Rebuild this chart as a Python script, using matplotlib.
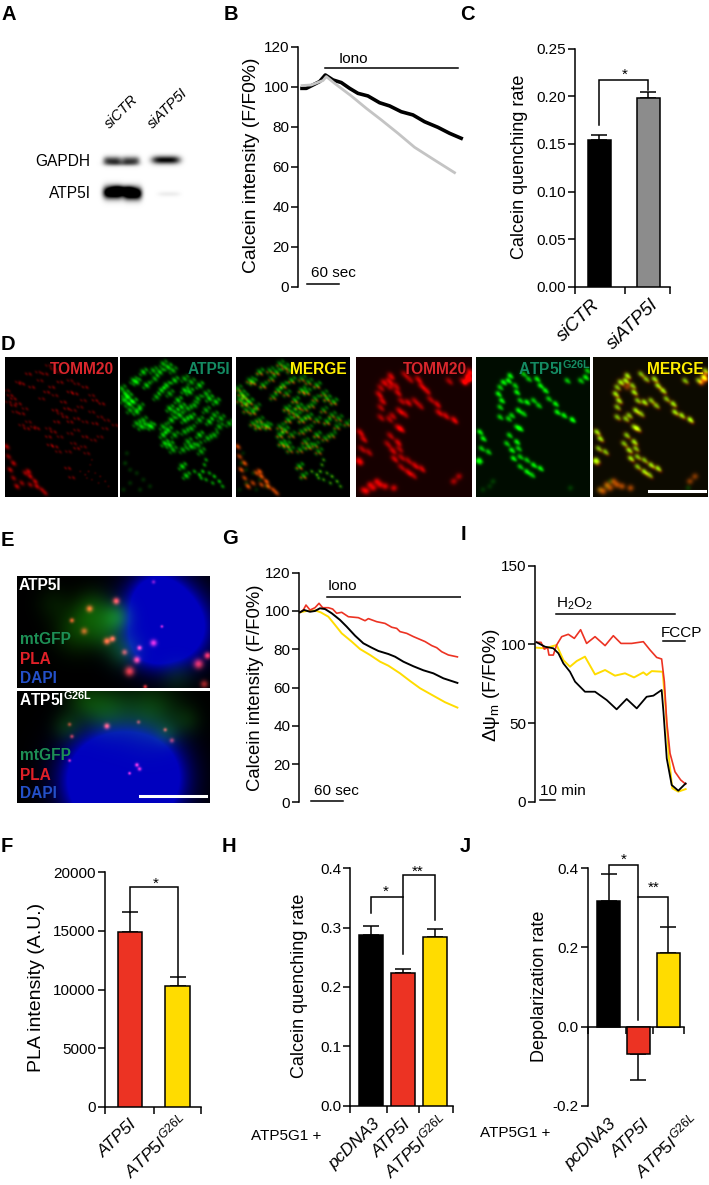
import numpy as np
import matplotlib
matplotlib.use('Agg')
import matplotlib.pyplot as plt

W, H = 709, 1185
plt.rcParams['font.family'] = ['Liberation Sans', 'DejaVu Sans']
plt.rcParams['mathtext.fontset'] = 'custom'
plt.rcParams['mathtext.rm'] = 'Liberation Sans'
plt.rcParams['mathtext.it'] = 'Liberation Sans:italic'
plt.rcParams['mathtext.bf'] = 'Liberation Sans:bold'
plt.rcParams['mathtext.default'] = 'regular'

G26L_IT = r'$\mathit{ATP5I}^{\mathit{G26L}}$'
BLACK, RED, YELLOW, GREY = '#000000', '#ec3323', '#ffdc00', '#8c8c8c'

# Panel B
b_t_black = [6.8,15,27.6,40.2,50.9,65.4,81.1,96.9,112.6,131.5,153.6,172.5,194.5,216.6,238.6,263.8,285.9,307.9]
b_black = [99.3,99.3,101,102.7,106,103.5,102.2,99.3,96.8,95.5,92.1,90.5,87.6,86,82.6,79.8,76.8,74.3]
b_t_grey = [6.8,24.4,46.5,52.8,68.5,100,128.4,156.8,188.3,219.7,257.5,295.3]
b_grey = [100.7,101,103.2,105.2,101.8,95.5,89.3,83.5,76.8,69.8,63.4,57.1]
# Panel C
c_labels = ['siCTR', 'siATP5I']
c_vals = [0.154, 0.198]
c_errs = [0.005, 0.006]
# Panel G
g_t_red = [1.3,7.6,12.6,20.2,29.6,37.2,44.1,54.8,63,70.5,80,92.5,111.4,124,130.3,146,161.7,174.3,183.7,190,202.6,215.2,237.2,249.8,259.2,268.6,281.2,298.2]
g_red = [99.3,100.5,103.1,100.5,101.7,104,101.7,101.7,101,98.8,99.3,97,96.5,94.9,96,94.4,93.5,91.5,90.9,89.2,88.3,86.6,84,81.9,80.8,78.7,77,76]
g_t_black = [1.3,8.9,20.2,29.6,39,48.5,61.1,76.8,89.4,105.1,120.8,136.6,149.1,168,180.6,196.3,215.2,234,252.9,271.8,298.2]
g_black = [99.3,100.5,99.6,100,101.4,101,98.8,95.3,91.8,87.1,83.1,80.8,79.1,77.5,76.1,73.5,71.1,69,67.4,64.8,62.4]
g_t_yellow = [1.3,13.9,29.6,40.3,54.8,67.4,80,98.8,114.5,133.4,152.3,168,190,208.9,227.8,252.9,274.9,298.2]
g_yellow = [99.3,100,100.3,99.3,97,92.7,88.3,84,80.1,77,73.5,71.4,67.4,63.4,59.6,55.7,52.3,49.5]
# Panel I
i_t_red = [1.1,4,6.2,8.4,9.3,12.2,14.4,17.8,22.2,26.2,30.4,34.4,40,46.7,52.2,57.3,64.4,72.2,76.7,81.1,84.4,86.2,87.8,90,93.3,97.1,100.4]
i_red = [101.3,101.3,97,97.9,93.2,93.2,99.6,104.9,106.4,103.8,109.3,100.6,104.9,99.2,105.5,100.6,100.6,101.7,96.4,91.7,90.7,76.3,50.8,30.7,19,13.8,11.2]
i_t_yellow = [1.1,6.7,14.4,18.9,23.3,27.8,33.3,40,46.7,53.3,60,66,72.2,74.4,77.8,85.1,87.1,89.3,91.5,95.5,100.4]
i_yellow = [97.9,97.5,99.6,90,85.8,89.4,92.2,80.9,83.7,80.1,81.6,79,82.2,80.5,83,82.6,59.3,27.5,8.5,6.4,8]
i_t_black = [1.1,6.7,12.2,15.6,18.9,23.3,26.7,33.3,40,47.8,54.4,61.1,67.8,74.4,78.9,84.4,85.6,87.8,91.1,95.5,100.4]
i_black = [101.3,98.5,97.5,94.3,87.9,82.6,76.3,69.9,69.9,64.6,58.7,65.3,59.3,66.7,67.4,71,57.2,27.5,10.6,7,11.6]
# Panels F, H, J
f_labels = ['ATP5I', G26L_IT]
f_vals = [14900, 10300]
f_errs = [1700, 800]
h_labels = ['pcDNA3', 'ATP5I', G26L_IT]
h_vals = [0.287, 0.224, 0.284]
h_errs = [0.016, 0.007, 0.013]
j_labels = ['pcDNA3', 'ATP5I', G26L_IT]
j_vals = [0.318, -0.070, 0.187]
j_errs = [0.067, 0.065, 0.064]

# Micrograph blobs (x, y in 3x crop coordinates)
d_green_l = [(130,20),(145,30),(160,40),(120,45),(100,40),(70,45),(40,70),(50,75),(105,65),(80,85),(140,85),(165,70),
 (195,65),(215,75),(240,85),(195,100),(210,105),(150,110),(110,120),(125,100),(5,95),(15,110),(25,120),(10,130),(25,140),
 (40,135),(30,160),(50,165),(60,150),(260,110),(270,125),(290,135),(235,125),(175,130),(185,150),(165,165),(205,155),
 (225,145),(260,160),(285,175),(305,185),(330,200),(150,155),(180,175),(195,190),(155,190),(215,180),(240,190),(270,195),
 (300,210),(50,200),(65,210),(85,205),(70,190),(95,210),(130,210),(145,220),(165,235),(195,225),(215,215),(240,235),
 (265,245),(285,235),(130,235),(135,260),(150,265),(160,280),(190,280),(205,255),(215,270),(235,265),(245,285),(188,330),
 (200,358)]
d_chain_l = [(260,310),(255,325),(250,345),(240,355),(225,345),(270,350),(285,360),(300,375),(310,390),(280,380),(260,370),(245,365)]
d_green_l_dim = [(20,290),(15,320),(50,350),(70,370),(90,390),(30,380),(60,400),(30,340),(10,400)]
d_red_l_extra = [(5,270),(10,300),(25,320),(15,340),(60,350),(75,360),(90,375),(110,400),(50,380),(35,390),(70,345),(95,390),(25,365),(75,385),(120,410)]
d_green_r = [(100,55),(95,70),(80,75),(70,90),(65,110),(75,130),(70,150),(140,50),(155,65),(115,85),(120,105),(180,65),
 (190,85),(205,100),(215,125),(130,130),(150,135),(170,130),(185,145),(125,160),(105,175),(95,185),(70,180),(140,170),
 (235,140),(240,165),(260,175),(285,188),(120,210),(130,215),(98,235),(120,255),(90,260),(105,280),(125,275),(130,300),
 (110,305),(150,310),(170,325),(190,335),(130,330),(150,345),(165,355),(10,225),(20,245),(15,275),(35,285),(10,310),
 (5,315),(270,70),(310,70),(325,60),(330,40)]
d_green_r_dim = [(40,390),(20,400),(50,375),(280,395)]
d_red_r_extra = [(40,385),(60,375),(85,390),(20,400),(285,375),(300,360),(330,50),(320,75),(100,90),(330,65),(50,395),(110,395),(70,385),(30,405)]

e1_blue = [(490,300,80,1.0),(530,330,60,.7),(450,370,45,.5),(470,230,50,.6)]
e1_green = [(350,290,30,.7),(280,270,40,.5),(230,330,45,.4),(370,390,35,.45),(160,250,35,.15),(530,470,35,.2),(310,340,35,.35)]
e1_red = [(348,242,7,1),(268,265,7,.9),(215,300,5,.8),(252,332,7,.7),(320,362,7,1),(337,355,6,1),(373,395,6,.7),(418,382,5,1),
 (410,418,7,1),(388,452,10,.9),(595,430,10,.9),(622,405,7,1),(612,490,8,.6),(460,367,7,.9),(435,498,4,.9),(460,185,4,.5),(485,318,3,.8)]
e2_blue = [(370,770,95,1.0),(300,770,70,.7),(440,760,70,.7),(370,830,90,.7)]
e2_green = [(320,570,50,.5),(450,580,60,.5),(200,620,30,.3),(560,600,30,.2),(250,540,40,.3),(500,640,25,.25)]
e2_red = [(320,617,6,1),(208,612,4,.6),(215,648,4,.7),(415,605,4,.6),(495,628,4,.7),(515,660,5,.6),(410,733,4,1),(418,745,4,.9),(388,758,3,1),(208,720,3,.9)]

# Western blot bands: (x px, y px, half-width, half-height, darkness)
bands = [(112,161,9,4.0,.72),(130,161,9,4.0,.68),(121,164,17,2.5,.30),(165,160.5,14,4.0,.98),
         (113,192.5,10,6,1.5),(132,193.5,9,6,1.5),(122,190,12,4,.7),(168,194,11,2.5,.07)]

fig = plt.figure(figsize=(W/100, H/100), dpi=100, facecolor='white')

def panel(l, r, t, b, xlim, ylim):
    ax = fig.add_axes([l/W, 1-b/H, (r-l)/W, (b-t)/H])
    ax.set_xlim(xlim); ax.set_ylim(ylim)
    ax.patch.set_alpha(0)
    for s in ('top', 'right', 'bottom'):
        ax.spines[s].set_visible(False)
    ax.spines['left'].set_linewidth(1.1)
    ax.set_xticks([])
    ax.tick_params(axis='y', length=5, width=1.1, labelsize=11, pad=1.5)
    return ax

def ftext(x, y, s, **kw):
    kw.setdefault('ha', 'left'); kw.setdefault('va', 'center')
    fig.text(x/W, 1-y/H, s, **kw)

def ylab(x, y, s, size=13):
    ftext(x, y, s, rotation=90, ha='center', fontsize=size)

def barpanel(ax, vals, errs, colors, width, seps, labels, offs, size, yoff):
    xs = np.arange(len(vals))
    ax.bar(xs, vals, width=width, color=colors, edgecolor='black', linewidth=1.1, zorder=3)
    signed = [(0, e) if v >= 0 else (e, 0) for v, e in zip(vals, errs)]
    for x, v, (lo, hi) in zip(xs, vals, signed):
        ax.errorbar(x, v, yerr=[[lo], [hi]], color='black', capsize=5.5, elinewidth=1.1, capthick=1.1, zorder=2)
    ax.spines['bottom'].set_visible(True)
    ax.spines['bottom'].set_linewidth(1.1)
    ax.set_xticks(seps)
    ax.set_xticklabels([])
    ax.tick_params(axis='x', length=5, width=1.1)
    for x, s, o in zip(xs, labels, offs):
        up = 4.5 if '$' in s else 0
        ax.annotate(s, xy=(x, 0), xycoords=('data', 'axes fraction'), xytext=(o, -yoff+up),
                    textcoords='offset points', rotation=44, rotation_mode='anchor',
                    ha='right', va='top', fontsize=size, style='italic')

def bracket(ax, xs, ys):
    ax.plot(xs, ys, color='black', lw=1.1, clip_on=False, zorder=5, solid_joinstyle='miter')

def star(ax, x, y, s='*'):
    ax.text(x, y, s, ha='center', va='center', fontsize=11, clip_on=False)

def gray_img(l, r, t, b, bands_):
    ys, xs = np.mgrid[t:b:0.5, l:r:0.5]
    d = np.zeros_like(xs, dtype=float)
    for x0, y0, sx, sy, a in bands_:
        d += a*np.exp(-((xs-x0)/sx)**4 - ((ys-y0)/sy)**2)
    ax = fig.add_axes([l/W, 1-b/H, (r-l)/W, (b-t)/H])
    ax.imshow(1-np.clip(d, 0, 1), cmap='gray', vmin=0, vmax=1, aspect='auto', interpolation='bilinear')
    ax.axis('off')

def layer(shape, pts, sigma, amp=1.0, stretch=1.0, shift=(0, 0)):
    h, w = shape
    ys, xs = np.mgrid[0:h:1.5, 0:w:1.5]
    d = np.zeros_like(xs, dtype=float)
    for p in pts:
        px, py = p[0]+shift[0], p[1]+shift[1]
        s = p[2] if len(p) > 2 else sigma
        a = p[3] if len(p) > 3 else 0.65+0.35*((p[0]*7+p[1]*13) % 10)/10
        u = ((xs-px)+(ys-py))/np.sqrt(2)   # along the mitochondria direction
        v = ((xs-px)-(ys-py))/np.sqrt(2)
        d += a*np.exp(-(u*u/(stretch*stretch)+v*v)/(2*s*s))
    return d*amp

def show_rgb(l, r, t, b, rgb):
    ax = fig.add_axes([l/W, 1-b/H, (r-l)/W, (b-t)/H])
    ax.imshow(np.clip(rgb, 0, 1), aspect='auto', interpolation='bilinear')
    ax.axis('off')
    return ax

# Panel letters
for x, y, s in [(1,15,'A'),(224,15,'B'),(460,15,'C'),(1,345,'D'),(1,540,'E'),(222,538,'G'),(461,535,'I'),
                (1,846,'F'),(222,846,'H'),(460,846,'J')]:
    ftext(x, y, s, fontsize=14.5, fontweight='bold')

# A
gray_img(92, 192, 146, 210, bands)
ftext(90.5, 161, 'GAPDH', ha='right', fontsize=11.2)
ftext(90.5, 193, 'ATP5I', ha='right', fontsize=11.2)
ftext(112, 131, 'siCTR', rotation=45, rotation_mode='anchor', ha='left', va='bottom', fontsize=10.5, style='italic')
ftext(155, 131, 'siATP5I', rotation=45, rotation_mode='anchor', ha='left', va='bottom', fontsize=10.5, style='italic')

# B
ax = panel(298.4, 466, 47, 286.7, (0, 317), (0, 120))
ax.set_yticks(range(0, 121, 20))
ax.plot(b_t_black, b_black, color='black', lw=2.6, zorder=2)
ax.plot(b_t_grey, b_grey, color='#c4c4c4', lw=2.0, zorder=3)
ax.plot([51, 302], [109.3, 109.3], color='black', lw=1.1)
ax.text(76, 113.8, 'Iono', fontsize=11, va='center')
ax.plot([17, 77], [1.6, 1.6], color='black', lw=1.1)
ax.text(24, 7, '60 sec', fontsize=11, va='center')
ylab(252, 165, 'Calcein intensity (F/F0%)', 13.9)

# C
ax = panel(575, 670.2, 48.7, 286.7, (-0.5, 1.444), (0, 0.25))
ax.set_yticks([0, .05, .10, .15, .20, .25])
ax.set_yticklabels(['0.00', '0.05', '0.10', '0.15', '0.20', '0.25'])
barpanel(ax, c_vals, c_errs, [BLACK, GREY], 0.46, [-0.5, 0.52, 1.444], c_labels, [-6, 1], 13.5, 7)
bracket(ax, [0, 0, 1, 1], [0.170, 0.217, 0.217, 0.2066])
star(ax, 0.51, 0.223)
ylab(520, 167, 'Calcein quenching rate')

# D
size_d = (423, 339)
S = 1.5
gl = (layer(size_d, d_green_l, 4.6, 0.9, S) + layer(size_d, d_green_l, 3.6, 0.55, S, (9, -8))
      + layer(size_d, d_green_l, 3.4, 0.4, S, (-9, 8))
      + layer(size_d, d_chain_l, 3.8, 0.7, 1.3) + layer(size_d, d_green_l_dim, 5, 0.22))
rl = (layer(size_d, d_green_l, 3.0, 0.45, S, (5, 6)) + layer(size_d, d_green_l, 2.6, 0.38, S, (-7, 5))
      + layer(size_d, d_chain_l, 2.4, 0.28) + layer(size_d, d_red_l_extra, 4.5, 0.75, 1.5))
gr = (layer(size_d, d_green_r, 5.2, 1.0, 1.2) + layer(size_d, d_green_r, 3.6, 0.4, 1.2, (7, 6))
      + layer(size_d, d_green_r_dim, 6, 0.2))
rr = (layer(size_d, d_green_r, 6, 0.7, 1.3) + layer(size_d, d_green_r, 4.5, 0.4, 1.3, (7, 8))
      + layer(size_d, d_red_r_extra, 7, 0.8))
z = np.zeros_like(gl)
def rgb(r, g, b=None):
    return np.dstack([r, g, z if b is None else b])
top, bot = 357.3, 497.3
show_rgb(4.5, 116.7, top, bot, rgb(rl, z))
show_rgb(120.3, 232, top, bot, rgb(z, gl))
show_rgb(236, 349.5, top, bot, rgb(rl*1.2, gl*0.8 + layer(size_d, d_red_l_extra, 4.5, 0.3, 1.5)))
show_rgb(356.3, 471.6, top, bot, rgb(rr+0.09, z))
show_rgb(475.7, 589, top, bot, rgb(z, gr+0.05))
show_rgb(592.8, 707.6, top, bot, rgb(rr*.8+0.05, gr*.95+0.04 + layer(size_d, d_red_r_extra, 7, 0.25)))
TEAL = '#148a62'
for x, s, c in [(114,'TOMM20','#d8262c'),(230,'ATP5I',TEAL),(347,'MERGE','#ffee00'),(467,'TOMM20','#d8262c'),(704,'MERGE','#ffee00')]:
    ftext(x, 369, s, ha='right', fontsize=11.2, fontweight='bold', color=c, zorder=10)
ftext(518, 369, r'$\mathbf{ATP5I}^{\mathbf{G26L}}$', ha='left', fontsize=11.2, color=TEAL, zorder=10)
fig.add_artist(plt.Line2D([649/W, 705/W], [1-491/H]*2, color='white', lw=2.2, zorder=10))

# E
def e_img(t, b, zt, blue, green, red):
    zb = zt+(b-t)*3
    ys = int(zt/1.5); ye = int(zb/1.5)
    xs = int(52/1.5); xe = int(630/1.5)
    R = layer((900, 640), red, 5)[ys:ye, xs:xe]
    G = layer((900, 640), green, 40, 0.85)[ys:ye, xs:xe]
    B = layer((900, 640), blue, 80, 1.0)[ys:ye, xs:xe]
    B = np.clip(B*1.3, 0, 0.75)
    show_rgb(17.3, 210, t, b, np.dstack([R*1.0+G*0.1, G*.62+R*.22, B*(1-G*.3)+R*.2]))
e_img(576, 687.7, 168, e1_blue, e1_green, e1_red)
e_img(691, 802.7, 513, e2_blue, e2_green, e2_red)
for y, s, c in [(586,'ATP5I','white'),(640,'mtGFP','#1d8f55'),(659.5,'PLA','#e02028'),(678.5,'DAPI','#2450c8'),
                (755.5,'mtGFP','#1d8f55'),(775,'PLA','#e02028'),(794,'DAPI','#2450c8')]:
    ftext(20 if s != 'ATP5I' else 19, y, s, fontsize=11.2, fontweight='bold', color=c, zorder=10)
ftext(19, 700, r'$\mathbf{ATP5I}^{\mathbf{G26L}}$', fontsize=11.2, color='white', zorder=10)
fig.add_artist(plt.Line2D([140/W, 206/W], [1-795.7/H]*2, color='white', lw=2.2, zorder=10))

# G
ax = panel(299.3, 461, 572.7, 802.3, (0, 305), (0, 120))
ax.set_yticks(range(0, 121, 20))
ax.plot(g_t_yellow, g_yellow, color=YELLOW, lw=1.4)
ax.plot(g_t_red, g_red, color=RED, lw=1.2)
ax.plot(g_t_black, g_black, color='black', lw=1.4)
ax.plot([52, 306], [107.5, 107.5], color='black', lw=1.1)
ax.text(54, 112.8, 'Iono', fontsize=11, va='center')
ax.plot([22, 82], [0.9, 0.9], color='black', lw=1.1)
ax.text(28, 6, '60 sec', fontsize=11, va='center')
ylab(255, 688, 'Calcein intensity (F/F0%)', 13.3)

# I
ax = panel(535, 690, 565.7, 801.7, (0, 103.3), (0, 150))
ax.set_yticks([0, 50, 100, 150])
ax.plot(i_t_yellow, i_yellow, color=YELLOW, lw=1.4)
ax.plot(i_t_red, i_red, color=RED, lw=1.2)
ax.plot(i_t_black, i_black, color='black', lw=1.3)
ax.plot([14, 93.5], [119, 119], color='black', lw=1.1)
ax.text(14, 126, r'H$_2$O$_2$', fontsize=11, va='center')
ax.plot([85, 100], [102, 102], color='black', lw=1.1)
ax.text(83.5, 107.5, 'FCCP', fontsize=11, va='center')
ax.plot([3.5, 13.5], [1, 1], color='black', lw=1.1)
ax.text(3.5, 6.5, '10 min', fontsize=11, va='center')
ylab(492, 685, r'$\Delta\psi_m$ (F/F0%)', 13.8)

# F
ax = panel(104.9, 201.2, 872.3, 1106.7, (-0.519, 1.49), (0, 20000))
ax.set_yticks(range(0, 20001, 5000))
barpanel(ax, f_vals, f_errs, [RED, YELLOW], 0.51, [-0.519, 0.5, 1.49], f_labels, [0, 0], 12.5, 7)
bracket(ax, [0, 0, 1, 1], [16640, 18720, 18720, 11095])
star(ax, 0.547, 19000)
ylab(37, 987, 'PLA intensity (A.U.)', 14)

# H
ax = panel(350.4, 453, 868.3, 1105.7, (-0.664, 2.58), (0, 0.4))
ax.set_yticks([0, .1, .2, .3, .4])
barpanel(ax, h_vals, h_errs, [BLACK, RED, YELLOW], 0.757, [-0.664, 0.507, 1.52, 2.58], h_labels, [1, 0, 2], 12.5, 8)
bracket(ax, [0, 0, 1], [0.324, 0.352, 0.352])
bracket(ax, [1, 1, 2, 2], [0.255, 0.389, 0.389, 0.313])
star(ax, 0.45, 0.36); star(ax, 1.47, 0.394, '**')
ylab(300, 986, 'Calcein quenching rate')
ftext(251, 1135.7, 'ATP5G1 +', fontsize=11)

# J
ax = panel(587.8, 684.1, 868.3, 1105.7, (-0.71, 2.54), (-0.2, 0.4))
ax.set_yticks([-.2, 0, .2, .4])
ax.set_yticklabels(['-0.2', '0.0', '0.2', '0.4'])
barpanel(ax, j_vals, j_errs, [BLACK, RED, YELLOW], 0.78, [-0.71, 0.588, 1.5, 2.54], j_labels, [0, 3, 15], 12.5, 8)
ax.spines['bottom'].set_position(('data', 0))
bracket(ax, [0, 0, 1, 1], [0.387, 0.408, 0.408, 0.0166])
bracket(ax, [1, 1.99, 1.99], [0.328, 0.328, 0.254])
star(ax, 0.51, 0.421); star(ax, 1.5, 0.35, '**')
ylab(540, 986, 'Depolarization rate')
ftext(480, 1133, 'ATP5G1 +', fontsize=11)

fig.savefig('out.png', dpi=100, facecolor='white')
